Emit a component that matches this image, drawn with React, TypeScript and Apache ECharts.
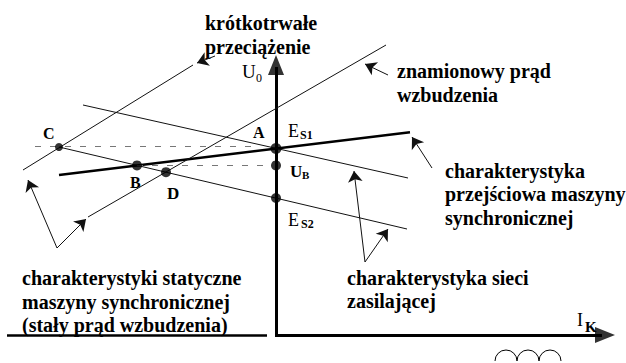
import React, { useEffect, useRef } from "react";
import * as echarts from "echarts";

// Coordinate system: x = I_K, y = U_0 (schematic units, origin at the axes corner)
const axisVertical = [[0, 0], [0, 268]];
const axisHorizontal = [[-1, 0], [326, 0]];
const axisLeftBase = [[-269, 0], [-9, 0]];
// arrow heads of the axes: [x, y, rotation]
const axisHeads = [[0, 270, 0], [329, 0, -90]];

const transientChar = [[-217, 160], [134, 202.8]];
const networkUpper = [[-193, 230], [132, 157]];
const networkLower = [[-217, 188], [131, 106]];
const staticOverload = [[-253, 165], [-83, 270]];
const staticRated = [[-188, 118], [110, 290]];
const dashedC = [[-241, 188.5], [-22, 188.5]];
const dashedUB = [[-139, 169.6], [-4, 169.6]];

const pointNames = ["A", "B", "C", "D", "UB", "ES2"];
const pointX = [0, -139, -217, -110, 0, 0];
const pointY = [186.5, 169.6, 188, 162.8, 169.6, 137];
const pointSize = [11, 10, 8, 10, 10, 10];

const pointers = [
  [[-61, 279], [-79, 272]],
  [[112, 260], [89, 271]],
  [[156, 167], [136, 198]],
  [[89, 73], [78, 164]],
  [[89, 73], [112, 106]],
  [[-219, 87], [-248, 155]],
  [[-219, 87], [-190, 116]],
];

const FONT = "Liberation Serif";

function txt(text: string, x: number, y: number, size: number, weight: string = "bold") {
  return {
    type: "text",
    x,
    y,
    silent: true,
    style: {
      text,
      fontSize: size,
      fontFamily: FONT,
      fontWeight: weight,
      fill: "#000",
      align: "left",
      verticalAlign: "middle",
      textAlign: "left",
      textVerticalAlign: "middle",
    },
  };
}

function arc(cx: number, cy: number, r: number) {
  return {
    type: "arc",
    silent: true,
    shape: { cx, cy, r, startAngle: Math.PI, endAngle: Math.PI * 2 },
    style: { stroke: "#000", lineWidth: 1, fill: "none" },
  };
}

function seg(coords: number[][]) {
  return { coords };
}

export default function App() {
  const ref = useRef<HTMLDivElement>(null);
  useEffect(() => {
    if (!ref.current) return;
    const chart = echarts.init(ref.current, undefined, { renderer: "svg" });
    const option: any = {
      animation: false,
      grid: { left: 0, right: 0, top: 0, bottom: 0, containLabel: false },
      xAxis: { type: "value", min: -276, max: 350, show: false },
      yAxis: { type: "value", min: -28, max: 335, show: false },
      series: [
        {
          type: "lines",
          coordinateSystem: "cartesian2d",
          symbol: "none",
          lineStyle: { color: "#000", width: 3, opacity: 1 },
          data: [seg(axisVertical), seg(axisHorizontal)],
        },
        {
          type: "scatter",
          symbol: "triangle",
          symbolSize: [16, 20],
          symbolRotate: (v: number[]) => v[2],
          itemStyle: { color: "#000" },
          data: axisHeads,
        },
        {
          type: "lines",
          coordinateSystem: "cartesian2d",
          symbol: "none",
          lineStyle: { color: "#000", width: 2.5, opacity: 1 },
          data: [seg(axisLeftBase), seg(transientChar)],
        },
        {
          type: "lines",
          coordinateSystem: "cartesian2d",
          symbol: "none",
          lineStyle: { color: "#111", width: 1, opacity: 1 },
          data: [seg(networkUpper), seg(networkLower), seg(staticOverload), seg(staticRated)],
        },
        {
          type: "lines",
          coordinateSystem: "cartesian2d",
          symbol: "none",
          lineStyle: { color: "#777", width: 1.2, type: [6, 9], opacity: 1 },
          data: [seg(dashedC), seg(dashedUB)],
        },
        {
          type: "lines",
          coordinateSystem: "cartesian2d",
          symbol: ["none", "arrow"],
          symbolSize: 11,
          lineStyle: { color: "#111", width: 1, opacity: 1 },
          data: pointers.map((p) => seg(p)),
        },
        {
          type: "scatter",
          symbol: "circle",
          symbolSize: (_v: any, p: any) => pointSize[p.dataIndex],
          itemStyle: { color: "#000" },
          data: pointNames.map((n, i) => ({ name: n, value: [pointX[i], pointY[i]] })),
        },
      ],
      graphic: [
        txt("krótkotrwałe", 205, 23, 20),
        txt("przeciążenie", 205, 47, 20),
        txt("znamionowy prąd", 397, 71, 20),
        txt("wzbudzenia", 397, 95, 20),
        txt("charakterystyka", 445, 171, 20),
        txt("przejściowa maszyny", 445, 194, 20),
        txt("synchronicznej", 445, 218, 20),
        txt("charakterystyki statyczne", 22, 278, 20),
        txt("maszyny synchronicznej", 22, 302, 20),
        txt("(stały prąd wzbudzenia)", 22, 325, 20),
        txt("charakterystyka sieci", 347, 278, 20),
        txt("zasilającej", 347, 301, 20),
        txt("U", 242, 71, 19, "normal"),
        txt("0", 256, 78, 12, "normal"),
        txt("I", 577, 320, 18, "normal"),
        txt("K", 585, 327, 15, "bold"),
        txt("A", 253, 132, 16),
        txt("B", 130, 182, 16),
        txt("C", 43, 133, 16),
        txt("D", 167, 193, 17),
        txt("E", 288, 131, 18, "normal"),
        txt("S1", 300, 135, 12, "bold"),
        txt("U", 290, 171, 17),
        txt("B", 302, 175, 11),
        txt("E", 288, 220, 18, "normal"),
        txt("S2", 301, 224, 12, "bold"),
        arc(506, 361, 11),
        arc(528, 361, 11),
        arc(550, 361, 11),
      ],
    };
    chart.setOption(option);
    return () => chart.dispose();
  }, []);
  return (
    <div
      ref={ref}
      style={{ position: "absolute", left: 0, top: 0, width: 626, height: 363, background: "#fff" }}
    />
  );
}
